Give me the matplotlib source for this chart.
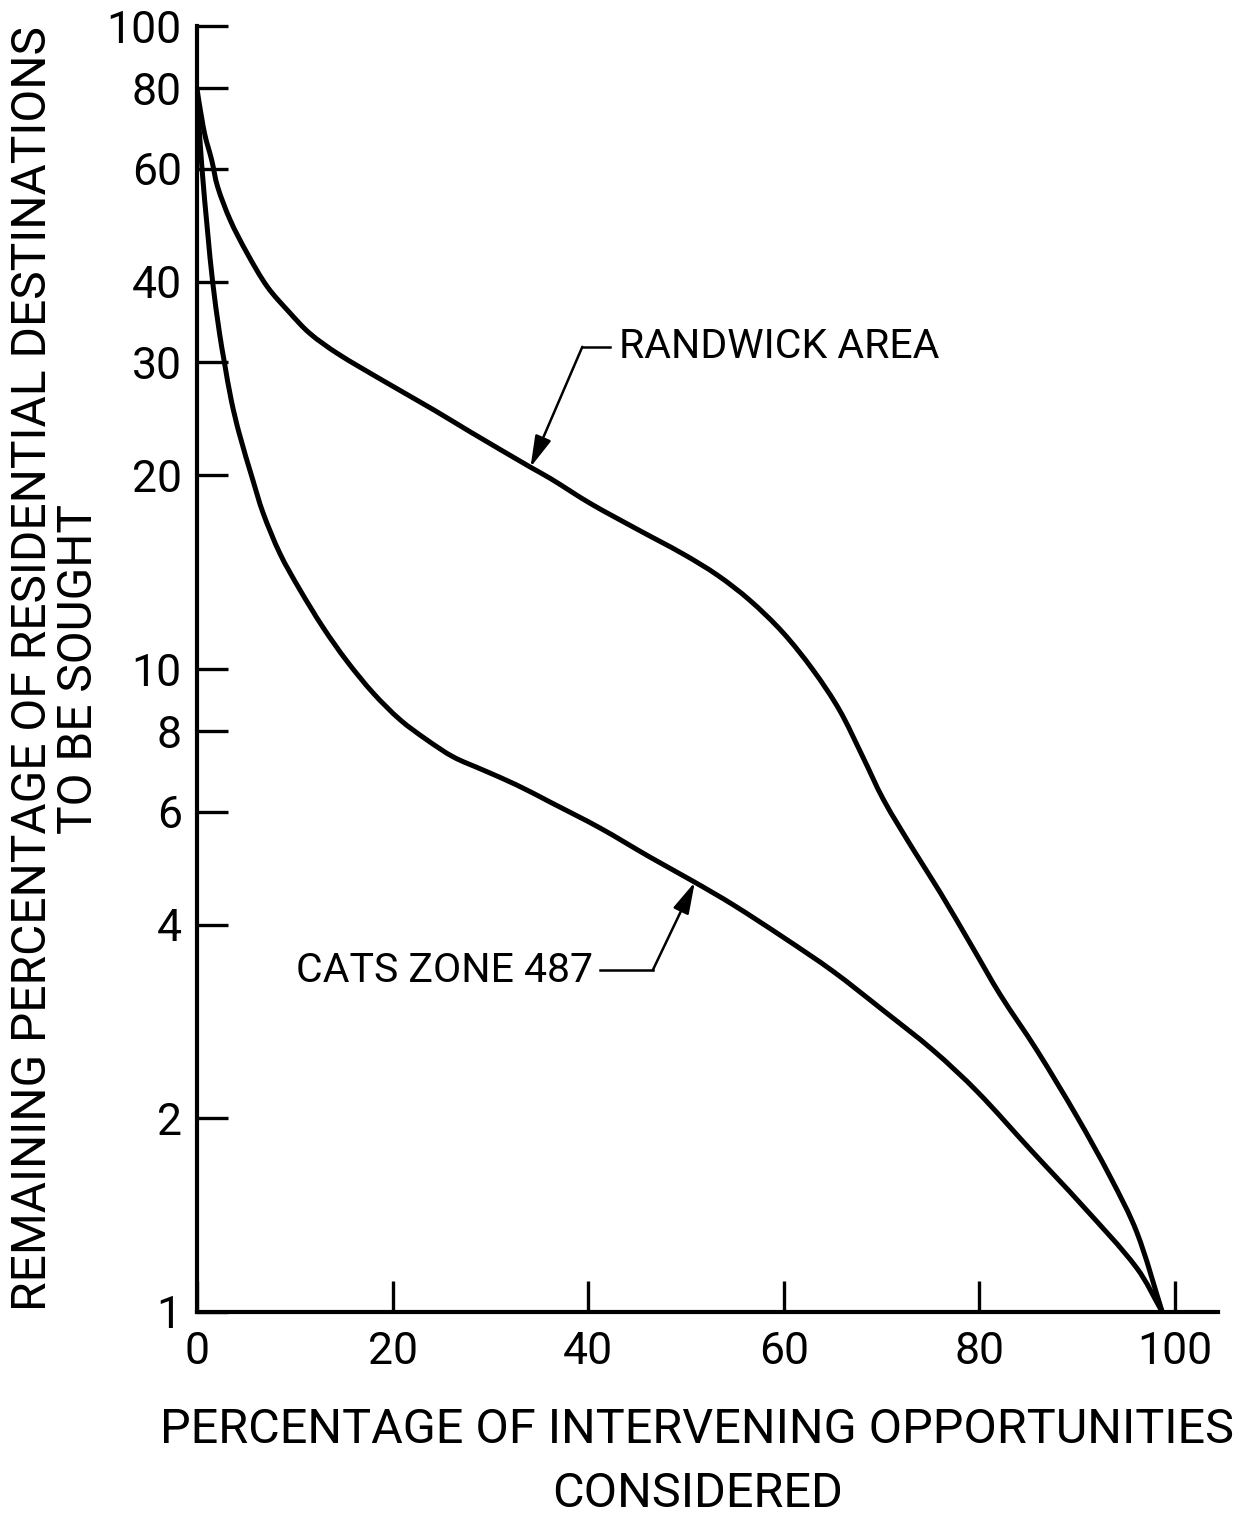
import numpy as np
import matplotlib.pyplot as plt
from matplotlib.path import Path
from matplotlib.patches import PathPatch
from matplotlib.ticker import FixedLocator, FixedFormatter, NullLocator

plt.rcParams['font.family'] = ['Roboto', 'DejaVu Sans']

# remaining share of destinations vs share of opportunities passed (log y)
randwick_x = [0, 0.2, 0.8, 1.5, 2.1, 3.4, 5.1, 7.2, 9.5, 11.5, 14.3, 19.0, 24.2, 27.9,
              34.1, 36.1, 40.2, 45.0, 49.7, 53.2, 56.5, 59.9, 63.0, 65.7, 68.1, 70.2,
              73.2, 76.0, 79.3, 82.1, 85.9, 90.0, 93.4, 96.1, 98.7]
randwick_y = [80, 76.3, 67.8, 61.9, 56.3, 49.9, 44.4, 39.3, 35.8, 33.3, 31.0, 28.1, 25.3, 23.4,
              20.6, 19.8, 18.1, 16.5, 15.1, 14.0, 12.8, 11.4, 9.96, 8.63, 7.29, 6.26,
              5.25, 4.49, 3.69, 3.12, 2.55, 2.01, 1.62, 1.33, 1.0]

cats_x = [0, 0.5, 1.1, 1.6, 2.3, 2.8, 3.5, 4.3, 5.7, 6.75, 8.5, 10.5, 12.9, 15.3, 18.0,
          20.8, 23.5, 26.2, 29.2, 32.7, 36.1, 41.2, 46.3, 50.9, 54.8, 59.9, 65.0, 70.1,
          75.3, 79.8, 85.2, 90.6, 96.1, 98.7]
cats_y = [78, 60.3, 47.6, 40.0, 33.3, 30.0, 26.2, 23.3, 19.7, 17.5, 15.1, 13.3, 11.6, 10.3, 9.18,
          8.33, 7.76, 7.30, 6.97, 6.60, 6.21, 5.66, 5.10, 4.66, 4.30, 3.83, 3.39, 2.95,
          2.55, 2.20, 1.79, 1.46, 1.17, 1.0]

y_ticks = [1, 2, 4, 6, 8, 10, 20, 30, 40, 60, 80, 100]
y_labels = ['1', '2', '4', '6', '8', '10', '20', '30', '40', '60', '80', '100']
x_ticks = [0, 20, 40, 60, 80, 100]
x_labels = ['0', '20', '40', '60', '80', '100']

randwick_label = 'RANDWICK AREA'
cats_label = 'CATS ZONE 487'

fig = plt.figure(figsize=(12.5, 15.16), dpi=100)
ax = fig.add_axes([0.1576, 0.1346, 0.8168, 0.8482])

ax.set_yscale('log')
ax.set_xlim(0, 104.4)
ax.set_ylim(1, 100)


def smooth_curve(xs, ys):
    # bezier through every point, tangents taken from the neighbours in screen space
    p = ax.transData.transform(np.column_stack([xs, ys]))
    tang = np.empty_like(p)
    tang[1:-1] = p[2:] - p[:-2]
    tang[0] = p[1] - p[0]
    tang[-1] = p[-1] - p[-2]
    tang /= np.linalg.norm(tang, axis=1)[:, None]
    verts, codes = [p[0]], [Path.MOVETO]
    for i in range(len(p) - 1):
        d = np.linalg.norm(p[i + 1] - p[i]) / 3
        verts += [p[i] + tang[i] * d, p[i + 1] - tang[i + 1] * d, p[i + 1]]
        codes += [Path.CURVE4] * 3
    verts = ax.transData.inverted().transform(np.array(verts))
    return Path(verts, codes)


for xs, ys in [(randwick_x, randwick_y), (cats_x, cats_y)]:
    ax.add_patch(PathPatch(smooth_curve(xs, ys), facecolor='none', edgecolor='black',
                           lw=3.6, capstyle='round', joinstyle='round'))

ax.yaxis.set_major_locator(FixedLocator(y_ticks))
ax.yaxis.set_major_formatter(FixedFormatter(y_labels))
ax.yaxis.set_minor_locator(NullLocator())
ax.set_xticks(x_ticks)
ax.set_xticklabels(x_labels)

for side in ['top', 'right']:
    ax.spines[side].set_visible(False)
for side in ['left', 'bottom']:
    ax.spines[side].set_linewidth(3.0)

ax.tick_params(axis='both', direction='in', length=22, width=2.4, labelsize=32)
ax.tick_params(axis='y', pad=11)
ax.tick_params(axis='x', pad=14)

ax.set_xlabel('PERCENTAGE OF INTERVENING OPPORTUNITIES\nCONSIDERED',
              fontsize=35, linespacing=1.5, labelpad=24)
ax.xaxis.label.set_x(0.49)
ax.set_ylabel('REMAINING PERCENTAGE OF RESIDENTIAL DESTINATIONS\nTO BE SOUGHT',
              fontsize=34.5, linespacing=0.98, labelpad=3.5)


def on_curve(xs, ys, x):
    return 10 ** np.interp(x, xs, np.log10(ys))


# leader lines: label -> horizontal run -> elbow -> arrow onto the curve
arrow_style = dict(arrowstyle='-|>,head_length=1.2,head_width=0.32', color='black',
                   lw=1.8, mutation_scale=16, shrinkA=0, shrinkB=0)

r_tip = 34.1
r_elbow = (39.4, 31.7)
ax.plot([r_elbow[0], 42.2], [r_elbow[1], r_elbow[1]], color='black', lw=1.8)
ax.annotate('', xy=(r_tip, on_curve(randwick_x, randwick_y, r_tip)), xytext=r_elbow,
            arrowprops=arrow_style)
ax.text(43.2, r_elbow[1], randwick_label, fontsize=29.5, ha='left', va='center')

c_tip = 50.9
c_elbow = (46.6, 3.40)
ax.plot([41.2, c_elbow[0]], [c_elbow[1], c_elbow[1]], color='black', lw=1.8)
ax.annotate('', xy=(c_tip, on_curve(cats_x, cats_y, c_tip)), xytext=c_elbow,
            arrowprops=arrow_style)
ax.text(40.5, c_elbow[1], cats_label, fontsize=29.5, ha='right', va='center')

fig.savefig('out.png', dpi=100)
